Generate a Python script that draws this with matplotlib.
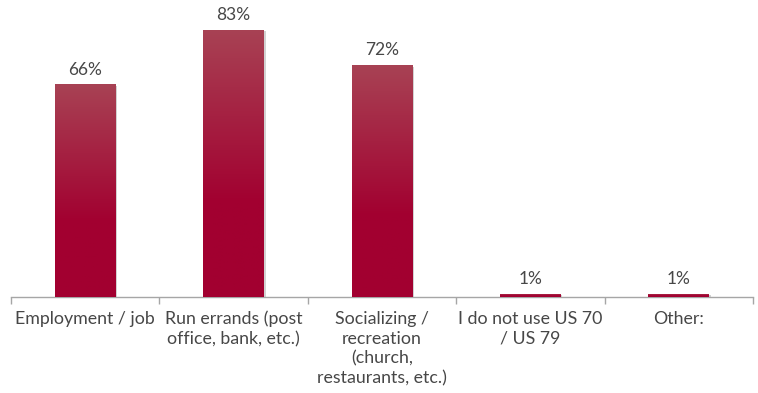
import matplotlib.pyplot as plt
import matplotlib.patheffects as pe
import numpy as np

plt.rcParams['font.family'] = ['Lato', 'DejaVu Sans']

categories = ["Employment / job", "Run errands (post\noffice, bank, etc.)",
              "Socializing /\nrecreation\n(church,\nrestaurants, etc.)",
              "I do not use US 70\n/ US 79", "Other:"]
values = [66, 83, 72, 1, 1]
value_labels = ["66%", "83%", "72%", "1%", "1%"]

top_col = np.array([168, 66, 84]) / 255
bot_col = np.array([162, 0, 48]) / 255

fig = plt.figure(figsize=(7.58, 3.93), dpi=100)
ax = fig.add_axes([11 / 758, 96 / 393, 742 / 758, 297 / 393])

x = np.arange(len(values))
width = 0.41
bars = ax.bar(x, values, width=width, color=bot_col, zorder=2,
              path_effects=[pe.SimplePatchShadow(offset=(1.2, -1.2), alpha=0.35, shadow_rgbFace='gray'),
                            pe.Normal()])

# vertical gradient inside each bar
n = 256
f = np.linspace(0, 1, n)  # 0 = bottom, 1 = top
w = np.clip((f - 0.35) / 0.65, 0, 1)[:, None]
grad = bot_col[None, :] * (1 - w) + top_col[None, :] * w
grad = grad[:, None, :]
for b in bars:
    x0, h = b.get_x(), b.get_height()
    im = ax.imshow(grad, extent=[x0, x0 + b.get_width(), 0, h], origin='lower',
                   aspect='auto', zorder=3, interpolation='bilinear')
    im.set_clip_path(b)

for xi, v, lab in zip(x, values, value_labels):
    ax.annotate(lab, (xi, v), xytext=(0, 5), textcoords='offset points',
                ha='center', va='bottom', fontsize=12.5, color='#474747')

ax.set_xlim(-0.5, len(values) - 0.5)
ax.set_ylim(0, 297 / 322 * 100)
ax.set_xticks(x)
ax.set_xticklabels(categories, fontsize=12.8, color='#474747', linespacing=1.3)
ax.tick_params(axis='x', which='major', length=0, pad=10)
ax.set_xticks(np.arange(len(values) + 1) - 0.5, minor=True)
ax.tick_params(axis='x', which='minor', length=5, color='#A6A6A6', width=1)
ax.set_yticks([])
for s in ['top', 'right', 'left']:
    ax.spines[s].set_visible(False)
ax.spines['bottom'].set_color('#A6A6A6')
ax.spines['bottom'].set_linewidth(1)

fig.savefig("out.png", dpi=100)
